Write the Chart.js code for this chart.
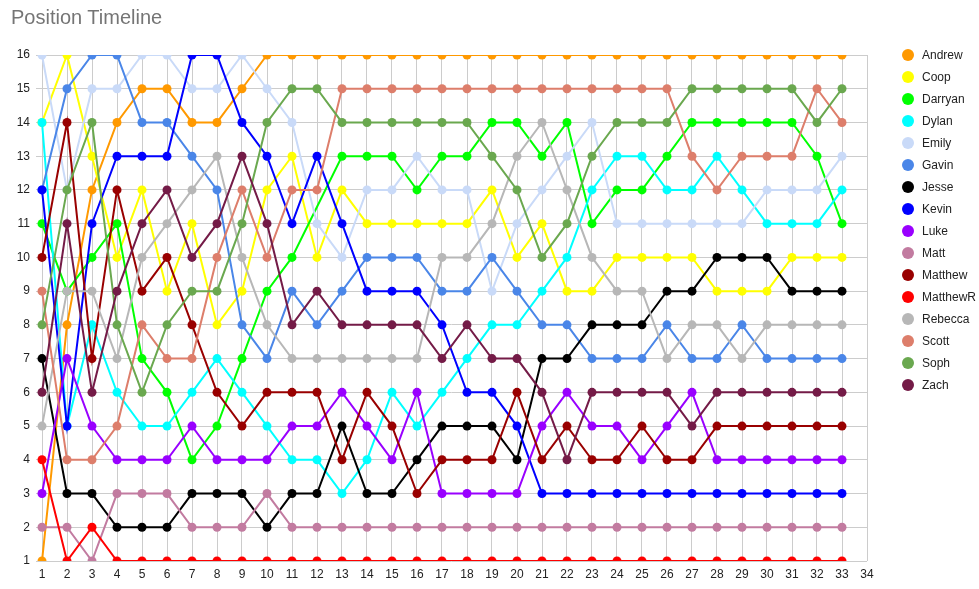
<!DOCTYPE html>
<html>
<head>
<meta charset="utf-8">
<script src="https://cdn.jsdelivr.net/npm/chart.js@4"></script>
<style>
  html, body { margin:0; padding:0; background:#fff; }
  #wrap { position:relative; width:979px; height:589px; font-family:"Liberation Sans", Arial, sans-serif; }
  #title { position:absolute; left:11px; top:7px; font-size:20px; line-height:20px; color:#757575; white-space:nowrap; }
  #legend { position:absolute; left:902px; top:0; }
  .li { position:absolute; left:0; height:14px; white-space:nowrap; font-size:12px; line-height:14px; color:#222; }
  .dot { position:absolute; left:0; top:1px; width:12px; height:12px; border-radius:50%; }
  .lt { position:absolute; left:20px; top:0; }
  canvas { position:absolute; left:0; top:0; }
</style>
</head>
<body>
<div id="wrap">
  <canvas id="c" width="979" height="589"></canvas>
  <div id="title">Position Timeline</div>
  <div id="legend"></div>
</div>
<script>
const rounds = Array.from({length: 33}, (_, i) => i + 1);
const xTickLabels = Array.from({length: 34}, (_, i) => String(i + 1));
const yTickLabels = Array.from({length: 16}, (_, i) => String(i + 1));

const names = ["Andrew","Coop","Darryan","Dylan","Emily","Gavin","Jesse","Kevin","Luke","Matt","Matthew","MatthewR","Rebecca","Scott","Soph","Zach"];
const colors = ["#ff9900","#ffff00","#00ff00","#00ffff","#c9daf8","#4a86e8","#000000","#0000ff","#9900ff","#c27ba0","#990000","#ff0000","#b7b7b7","#dd7e6b","#6aa84f","#741b47"];

const Andrew   = [1,8,12,14,15,15,14,14,15,16,16,16,16,16,16,16,16,16,16,16,16,16,16,16,16,16,16,16,16,16,16,16,16];
const Coop     = [14,16,13,10,12,9,11,8,9,12,13,10,12,11,11,11,11,11,12,10,11,9,9,10,10,10,10,9,9,9,10,10,10];
const Darryan  = [11,9,10,11,7,6,4,5,7,9,10,null,13,13,13,12,13,13,14,14,13,14,11,12,12,13,14,14,14,14,14,13,11];
const Dylan    = [14,5,8,6,5,5,6,7,6,5,4,4,3,4,6,5,6,7,8,8,9,10,12,13,13,12,12,13,12,11,11,11,12];
const Emily    = [16,12,15,15,16,16,15,15,16,15,14,11,10,12,12,13,12,12,9,11,12,13,14,11,11,11,11,11,11,12,12,12,13];
const Gavin    = [12,15,16,16,14,14,13,12,8,7,9,8,9,10,10,10,9,9,10,9,8,8,7,7,7,8,7,7,8,7,7,7,7];
const Jesse    = [7,3,3,2,2,2,3,3,3,2,3,3,5,3,3,4,5,5,5,4,7,7,8,8,8,9,9,10,10,10,9,9,9];
const Kevin    = [12,5,11,13,13,13,16,16,14,13,11,13,11,9,9,9,8,6,6,5,3,3,3,3,3,3,3,3,3,3,3,3,3];
const Luke     = [3,7,5,4,4,4,5,4,4,4,5,5,6,5,4,6,3,3,3,3,5,6,5,5,4,5,6,4,4,4,4,4,4];
const Matt     = [2,2,1,3,3,3,2,2,2,3,2,2,2,2,2,2,2,2,2,2,2,2,2,2,2,2,2,2,2,2,2,2,2];
const Matthew  = [10,14,7,12,9,10,8,6,5,6,6,6,4,6,5,3,4,4,4,6,4,5,4,4,5,4,4,5,5,5,5,5,5];
const MatthewR = [4,1,2,1,1,1,1,1,1,1,1,1,1,1,1,1,1,1,1,1,1,1,1,1,1,1,1,1,1,1,1,1,1];
const Rebecca  = [5,9,9,7,10,11,12,13,10,8,7,7,7,7,7,7,10,10,11,13,14,12,10,9,9,7,8,8,7,8,8,8,8];
const Scott    = [9,4,4,5,8,7,7,10,12,10,12,12,15,15,15,15,15,15,15,15,15,15,15,15,15,15,13,12,13,13,13,15,14];
const Soph     = [8,12,14,8,6,8,9,9,11,14,15,15,14,14,14,14,14,14,13,12,10,11,13,14,14,14,15,15,15,15,15,14,15];
const Zach     = [6,11,6,9,11,12,10,11,13,11,8,9,8,8,8,8,7,8,7,7,6,4,6,6,6,6,5,6,6,6,6,6,6];

const seriesValues = [Andrew,Coop,Darryan,Dylan,Emily,Gavin,Jesse,Kevin,Luke,Matt,Matthew,MatthewR,Rebecca,Scott,Soph,Zach];

const FONT = '"Liberation Sans", Arial, sans-serif';

const datasets = names.map((n, i) => ({
  label: n,
  data: rounds.map((r, k) => ({x: r, y: seriesValues[i][k]})),
  borderColor: colors[i],
  backgroundColor: colors[i],
  pointBackgroundColor: colors[i],
  pointBorderColor: colors[i],
  borderWidth: 2,
  pointRadius: 4.5,
  pointBorderWidth: 0,
  tension: 0,
  spanGaps: true,
  order: 16 - i
}));

new Chart(document.getElementById('c'), {
  type: 'line',
  data: { datasets },
  options: {
    responsive: false,
    animation: false,
    events: [],
    layout: { padding: { left: 0, top: 55, right: 112, bottom: 0 } },
    plugins: { legend: { display: false }, tooltip: { enabled: false }, title: { display: false } },
    scales: {
      x: {
        type: 'linear',
        min: 1 - 6/25,
        max: 34,
        afterBuildTicks: s => { s.ticks = xTickLabels.map(v => ({value: Number(v)})); },
        afterFit: s => { s.height = 28; },
        grid: { color: '#cccccc', lineWidth: 1, drawTicks: false },
        border: { display: false },
        ticks: { padding: 6, color: '#222222', font: { family: FONT, size: 12 }, autoSkip: false, maxRotation: 0,
                 callback: v => String(v) }
      },
      y: {
        type: 'linear',
        min: 1,
        max: 16,
        afterBuildTicks: s => { s.ticks = yTickLabels.map(v => ({value: Number(v)})); },
        afterFit: s => { s.width = 36; },
        grid: { color: '#cccccc', lineWidth: 1, drawTicks: false },
        border: { display: false },
        ticks: { padding: 6, color: '#222222', font: { family: FONT, size: 12 }, autoSkip: false,
                 callback: v => String(v) }
      }
    }
  }
});

const leg = document.getElementById('legend');
names.forEach((n, i) => {
  const d = document.createElement('div');
  d.className = 'li';
  d.style.top = (55 + 22 * i - 7) + 'px';
  d.innerHTML = '<span class="dot" style="background:' + colors[i] + '"></span><span class="lt"></span>';
  d.querySelector('.lt').textContent = n;
  leg.appendChild(d);
});
</script>
</body>
</html>
